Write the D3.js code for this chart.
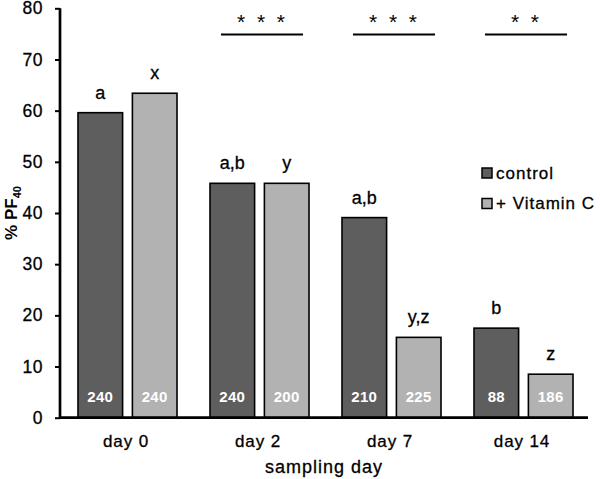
<!DOCTYPE html>
<html><head><meta charset="utf-8">
<script src="https://cdn.jsdelivr.net/npm/d3@7"></script>
<style>body{margin:0;background:#fff}svg{display:block;font-family:"Liberation Sans",Arial,sans-serif}
.hv{stroke:#000;stroke-width:0.3px;paint-order:stroke}</style>
</head><body><svg id="c" width="600" height="479"></svg>
<script>
const days = ["day 0","day 2","day 7","day 14"];
const seriesNames = ["control","+ Vitamin C"];
const controlValues = [59.6, 45.8, 39.1, 17.5];
const vitCValues = [63.4, 45.8, 15.7, 8.5];
const controlN = ["240","240","210","88"];
const vitCN = ["240","200","225","186"];
const controlLetters = ["a","a,b","a,b","b"];
const vitCLetters = ["x","y","y,z","z"];
const sigMarks = ["","* * *","* * *","* *"];
const yTicks = [0,10,20,30,40,50,60,70,80];
const colors = ["#5e5e5e","#b2b2b2"];

const svg = d3.select("#c");
const x0 = 60, x1 = 588, yTop = 8.3, yBot = 417.7;
const x = d3.scaleBand().domain(days).range([x0,x1]).paddingInner(0).paddingOuter(0);
const xs = d3.scaleBand().domain([0,1]).range([18, 117]).paddingInner(0.18);
const y = d3.scaleLinear().domain([0,80]).range([yBot,yTop]);

const data = days.map((d,i)=>[
  {day:d,s:0,v:controlValues[i],n:controlN[i],l:controlLetters[i]},
  {day:d,s:1,v:vitCValues[i],n:vitCN[i],l:vitCLetters[i]}
]).flat();

const g = svg.append("g");
g.selectAll("rect.bar").data(data).enter().append("rect")
  .attr("x",d=>x(d.day)+xs(d.s)).attr("width",xs.bandwidth())
  .attr("y",d=>y(d.v)).attr("height",d=>y(0)-y(d.v))
  .attr("fill",d=>colors[d.s]).attr("stroke","#000").attr("stroke-width",1.6);

g.selectAll("text.n").data(data).enter().append("text")
  .attr("x",d=>x(d.day)+xs(d.s)+xs.bandwidth()/2).attr("y",402)
  .attr("text-anchor","middle").attr("fill","#fff").attr("font-weight","bold")
  .attr("font-size",15).attr("letter-spacing",0.3).text(d=>d.n);

g.selectAll("text.l").data(data).enter().append("text").attr("class","hv")
  .attr("x",d=>x(d.day)+xs(d.s)+xs.bandwidth()/2).attr("y",d=>y(d.v)-14)
  .attr("text-anchor","middle").attr("fill","#000")
  .attr("font-size",18).text(d=>d.l);

// significance
days.forEach((d,i)=>{
  if(!sigMarks[i]) return;
  const cx = x(d)+x.bandwidth()/2 + 4;
  g.append("line").attr("x1",cx-41).attr("x2",cx+41).attr("y1",34.5).attr("y2",34.5)
    .attr("stroke","#000").attr("stroke-width",2);
  g.append("text").attr("x",cx-1).attr("y",29).attr("text-anchor","middle")
    .attr("font-size",21).style("white-space","pre").text(sigMarks[i].replace(/ /g,"  "));
});

// axes
const ya = svg.append("g").attr("transform",`translate(${x0},0)`)
  .call(d3.axisLeft(y).tickValues(yTicks).tickSize(5).tickPadding(12));
ya.select(".domain").attr("stroke-width",2.7).attr("d",`M0,${yTop}V${yBot}`);
ya.selectAll(".tick line").attr("stroke-width",2);
ya.selectAll(".tick text").attr("class","hv").attr("font-size",17.5).attr("fill","#000")
  .attr("font-family","Liberation Sans, Arial").attr("letter-spacing",0.5);

const xa = svg.append("g").attr("transform",`translate(0,${yBot})`)
  .call(d3.axisBottom(x).tickSize(0).tickPadding(17.5));
xa.select(".domain").attr("stroke-width",2.7).attr("d",`M${x0-1},0H${x1}`);
xa.selectAll(".tick text").attr("class","hv").attr("font-size",17).attr("fill","#000")
  .attr("font-family","Liberation Sans, Arial").attr("letter-spacing",0.9);

svg.append("text").attr("class","hv").attr("x",324).attr("y",473).attr("text-anchor","middle")
  .attr("font-size",18).attr("letter-spacing",1).text("sampling day");

const yl = svg.append("text").attr("transform","translate(17,213) rotate(-90)")
  .attr("text-anchor","middle").attr("font-size",17).attr("font-weight","bold");
yl.append("tspan").text("% PF");
yl.append("tspan").attr("font-size",11).attr("dy",4).text("40");

// legend
const lg = svg.append("g");
seriesNames.forEach((s,i)=>{
  const cy = 173 + i*30.5;
  lg.append("rect").attr("x",482).attr("y",cy-5).attr("width",10).attr("height",10)
    .attr("fill",colors[i]).attr("stroke","#000").attr("stroke-width",1.5);
  lg.append("text").attr("class","hv").attr("x",496).attr("y",cy+5.5).attr("font-size",17)
    .attr("letter-spacing",1).text(s);
});
</script></body></html>
